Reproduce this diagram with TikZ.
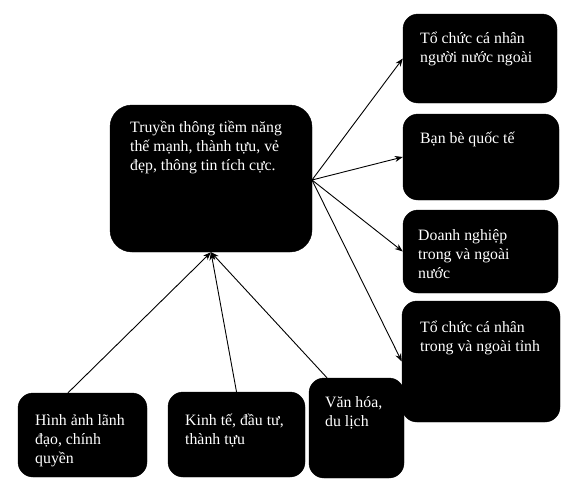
\documentclass[tikz,border=0pt]{standalone}
\usepackage{fontspec}
\setmainfont{Liberation Serif}
\usetikzlibrary{arrows.meta}
\begin{document}
\begin{tikzpicture}[x=1pt,y=-1pt,
  box/.style={fill=black, draw=black, rounded corners=15pt, inner sep=0pt},
  bigbox/.style={box, rounded corners=22pt},
  txt/.style={text=white, align=left, anchor=north west, inner sep=0pt,
    font=\fontsize{15.8}{19}\selectfont},
  conn/.style={line width=0.9pt, -{Stealth[length=8pt,width=6pt]}}]
\useasboundingbox[fill=white] (0,0) rectangle (568,490);
% boxes
\node[bigbox, minimum width=202pt, minimum height=147pt] (C) at (211,178.5) {};
\node[box, minimum width=154pt, minimum height=89pt] (R1) at (480,58.5) {};
\node[box, minimum width=156pt, minimum height=86pt] (R2) at (481,157) {};
\node[box, minimum width=155pt, minimum height=83pt] (R3) at (480.5,251.5) {};
\node[box, minimum width=158pt, minimum height=121pt] (R4) at (481,361.5) {};
\node[box, minimum width=129pt, minimum height=84pt] (B1) at (82.5,435) {};
\node[box, minimum width=137pt, minimum height=85pt] (B2) at (236.5,434.5) {};
\node[box, minimum width=95pt, minimum height=100pt] (B3) at (356.5,428) {};
% texts (top = first baseline - 13.3)
\node[txt] (tC) at (130,118.7) {\strut Truyền thông tiềm năng\\thế mạnh, thành tựu, vẻ\\đẹp, thông tin tích cực.};
\node[txt] (tR1) at (420,29.7) {\strut Tổ chức cá nhân\\người nước ngoài};
\node[txt] (tR2) at (420,129.7) {\strut Bạn bè quốc tế};
\node[txt] (tR3) at (418,226.7) {\strut Doanh nghiệp\\trong và ngoài\\nước};
\node[txt] (tR4) at (420,318.7) {\strut Tổ chức cá nhân\\trong và ngoài tỉnh};
\node[txt] (tB1) at (35,411.7) {\strut Hình ảnh lãnh\\đạo, chính\\quyền};
\node[txt] (tB2) at (185,411.7) {\strut Kinh tế, đầu tư,\\thành tựu};
\node[txt] (tB3) at (325,393.7) {\strut Văn hóa,\\du lịch};
% connectors
\coordinate (cR) at (312,180);
\draw[conn] (cR) -- (R1.west);
\draw[conn] (cR) -- (R2.west);
\draw[conn] (cR) -- (R3.west);
\draw[conn] (cR) -- (R4.west);
\draw[conn] ([xshift=-14.5pt]B1.north) -- (C.south);
\draw[conn] (B2.north) -- (C.south);
\draw[conn] ([xshift=-29.5pt]B3.north) -- (C.south);
\end{tikzpicture}
\end{document}
